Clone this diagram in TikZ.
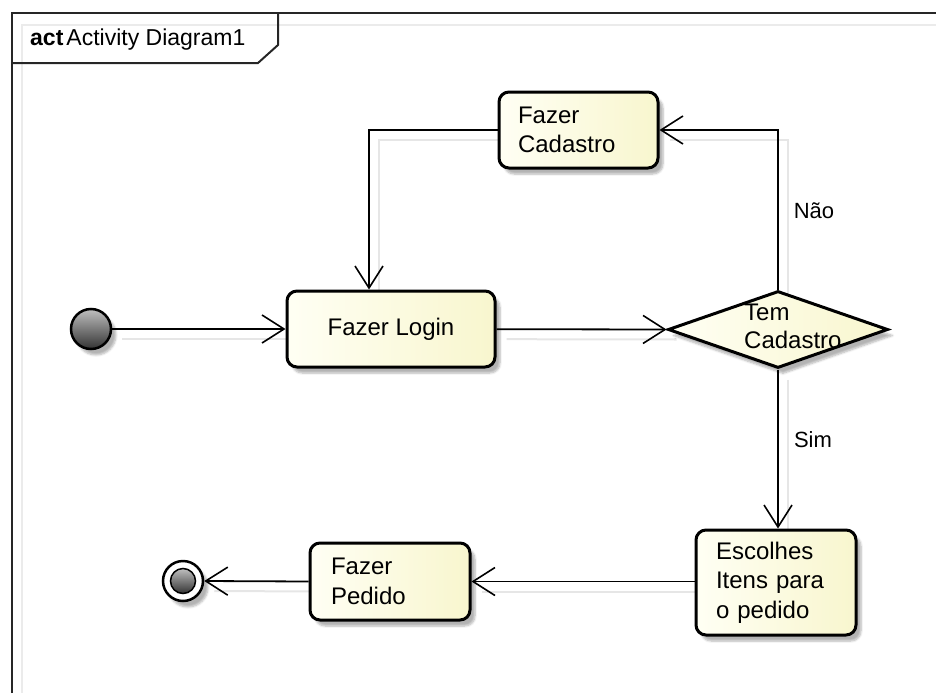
\documentclass[tikz,border=0pt]{standalone}
\usepackage{fontspec}
\setmainfont{Liberation Sans}
\usetikzlibrary{arrows.meta,shapes.geometric,shadows.blur,backgrounds}

\definecolor{actlight}{HTML}{FFFFF4}
\definecolor{actdark}{HTML}{F8F6CE}
\definecolor{flowshadow}{HTML}{E6E6E6}

\tikzset{
  boxshadow/.style={blur shadow={shadow xshift=5pt, shadow yshift=-6pt,
      shadow blur steps=6, shadow opacity=30}},
  activity/.style={draw=black, line width=3pt, rounded corners=10pt,
      left color=actlight, right color=actdark, boxshadow,
      font=\fontsize{24}{29.5}\selectfont, inner ysep=0pt},
  decision/.style={diamond, draw=black, line width=3pt,
      left color=actlight, right color=actdark, boxshadow, inner sep=0pt},
  flow/.style={line width=1.8pt,
      -{Straight Barb[length=22pt,width=28pt,line width=1.6pt]}},
  flowshade/.style={line width=2pt, draw=flowshadow},
  guard/.style={font=\fontsize{22}{26}\selectfont},
  framehead/.style={line width=2pt, draw=black!85},
}

\begin{document}
\begin{tikzpicture}[x=1pt,y=-1pt]
  \useasboundingbox (0,0) rectangle (936,693);

  % diagram frame with its name tab
  \draw[black!8, line width=2pt] (22,693) -- (22,25) -- (936,25);
  \draw[framehead] (12,693) -- (12,13) -- (936,13);
  \draw[framehead] (278,13) -- (278,45) -- (258,63) -- (12,63);
  \node[anchor=west, font=\fontsize{23}{27}\selectfont, inner sep=0pt]
    (title) at (30,40) {\textbf{act}\kern3pt Activity Diagram1};

  % initial node
  \node[circle, draw=black, line width=2.5pt, minimum size=40pt, inner sep=0pt,
        top color=gray!50, bottom color=black!80, boxshadow]
    (start) at (91,329) {};

  % actions
  \node[activity, minimum width=208pt, minimum height=76pt]
    (login) at (391,329) {Fazer Login};

  \node[activity, minimum width=159pt, minimum height=76pt,
        inner xsep=19pt, text width=121pt, align=left]
    (cadastro) at (578.5,130) {Fazer\\Cadastro};

  \node[activity, minimum width=160pt, minimum height=105pt,
        inner xsep=20pt, text width=120pt, align=left]
    (escolhe) at (776,582.5) {Escolhes\\Itens para\\o pedido};

  \node[activity, minimum width=160pt, minimum height=77pt,
        inner xsep=21pt, text width=118pt, align=left]
    (pedido) at (390,581.5) {Fazer\\Pedido};

  % decision
  \node[decision, minimum width=220pt, minimum height=77pt]
    (decide) at (778,329.5) {};
  \node[anchor=north west, align=left, inner sep=0pt,
        font=\fontsize{24}{28}\selectfont]
    (decidetext) at (744,304) {Tem\\Cadastro};

  % final node
  \node[circle, draw=black, line width=2.5pt, minimum size=40pt, inner sep=0pt,
        fill=white, boxshadow]
    (finish) at (183,581) {};
  \node[circle, draw=black, line width=1.5pt, minimum size=25pt, inner sep=0pt,
        top color=gray!50, bottom color=black!80]
    (finishcore) at (183,581) {};

  % control flows
  \draw[flow] (start) -- (login);
  \draw[flow] (login) -- (decide.west);
  \draw[flow] (decide.north) |- (cadastro.east);
  \draw[flow] (cadastro.west) -| ([xshift=-22pt]login.north);
  \draw[flow] (decide.south) -- (decide.south |- escolhe.north);
  \draw[flow] (pedido.east -| escolhe.west) -- (pedido.east);
  \draw[flow] (pedido.west) -- (finish.east);

  % guards
  \node[guard] (nao) at (814,211) {Não};
  \node[guard] (sim) at (813,440) {Sim};

  % soft shadows under the flows
  \begin{pgfonlayer}{background}
    \begin{scope}[transform canvas={shift={(10pt,-10pt)}}]
      \draw[flowshade] (start) -- (login);
      \draw[flowshade] (login) -- (decide.west);
      \draw[flowshade] (decide.north) |- (cadastro.east);
      \draw[flowshade] (cadastro.west) -| ([xshift=-22pt]login.north);
      \draw[flowshade] (decide.south) -- (decide.south |- escolhe.north);
      \draw[flowshade] (pedido.east -| escolhe.west) -- (pedido.east);
      \draw[flowshade] (pedido.west) -- (finish.east);
    \end{scope}
  \end{pgfonlayer}
\end{tikzpicture}
\end{document}
